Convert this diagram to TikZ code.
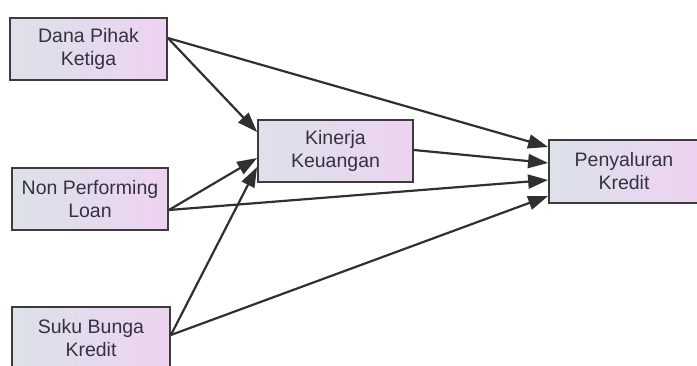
\documentclass[tikz,border=0pt]{standalone}
\usepackage{fontspec}
\setmainfont{Liberation Sans}
\usetikzlibrary{arrows.meta}
\definecolor{boxl}{HTML}{DDE1EA}
\definecolor{boxr}{HTML}{EDD3F0}
\definecolor{edge}{HTML}{3C3C3C}
\definecolor{txt}{HTML}{33333F}
\tikzset{
  var/.style={draw=edge, line width=1.8pt, left color=boxl, right color=boxr,
    minimum height=62pt, align=center, text=txt, inner sep=0pt,
    font=\fontsize{19.5}{23}\selectfont},
  conn/.style={draw=edge!80!black, line width=2.2pt, -{Triangle[length=20pt,width=14pt]}}
}
\begin{document}
\begin{tikzpicture}[x=1pt,y=-1pt]
\useasboundingbox (0,0) rectangle (697,365);
\node[var, minimum width=157pt] (dpk) at (88.5,49) {Dana Pihak\\Ketiga};
\node[var, minimum width=156pt] (npl) at (90,199) {Non Performing\\Loan};
\node[var, minimum width=158pt] (sbk) at (91,338) {Suku Bunga\\Kredit};
\node[var, minimum width=155pt] (kk) at (335.5,151) {Kinerja\\Keuangan};
\node[var, minimum width=150pt, minimum height=63pt] (pk) at (624,171.5) {Penyaluran\\Kredit};
\coordinate (dpkS) at ([yshift=11pt]dpk.east);
\coordinate (nplS) at ([yshift=-11pt]npl.east);
\coordinate (sbkS) at ([yshift=3pt]sbk.east);
\coordinate (kkS) at ([yshift=1pt]kk.east);
\coordinate (kk1) at ([yshift=19pt]kk.west);
\coordinate (kk2) at ([yshift=-7pt]kk.west);
\coordinate (kk3) at ([yshift=-16pt]kk.west);
\coordinate (pk1) at ([yshift=24.5pt]pk.west);
\coordinate (pk2) at ([yshift=8.5pt]pk.west);
\coordinate (pk3) at ([yshift=-8.5pt]pk.west);
\coordinate (pk4) at ([yshift=-24.5pt]pk.west);
\draw[conn] (dpkS) -- (kk1);
\draw[conn] (dpkS) -- (pk1);
\draw[conn] (kkS) -- (pk2);
\draw[conn] (nplS) -- (kk2);
\draw[conn] (nplS) -- (pk3);
\draw[conn] (sbkS) -- (kk3);
\draw[conn] (sbkS) -- (pk4);
\end{tikzpicture}
\end{document}
